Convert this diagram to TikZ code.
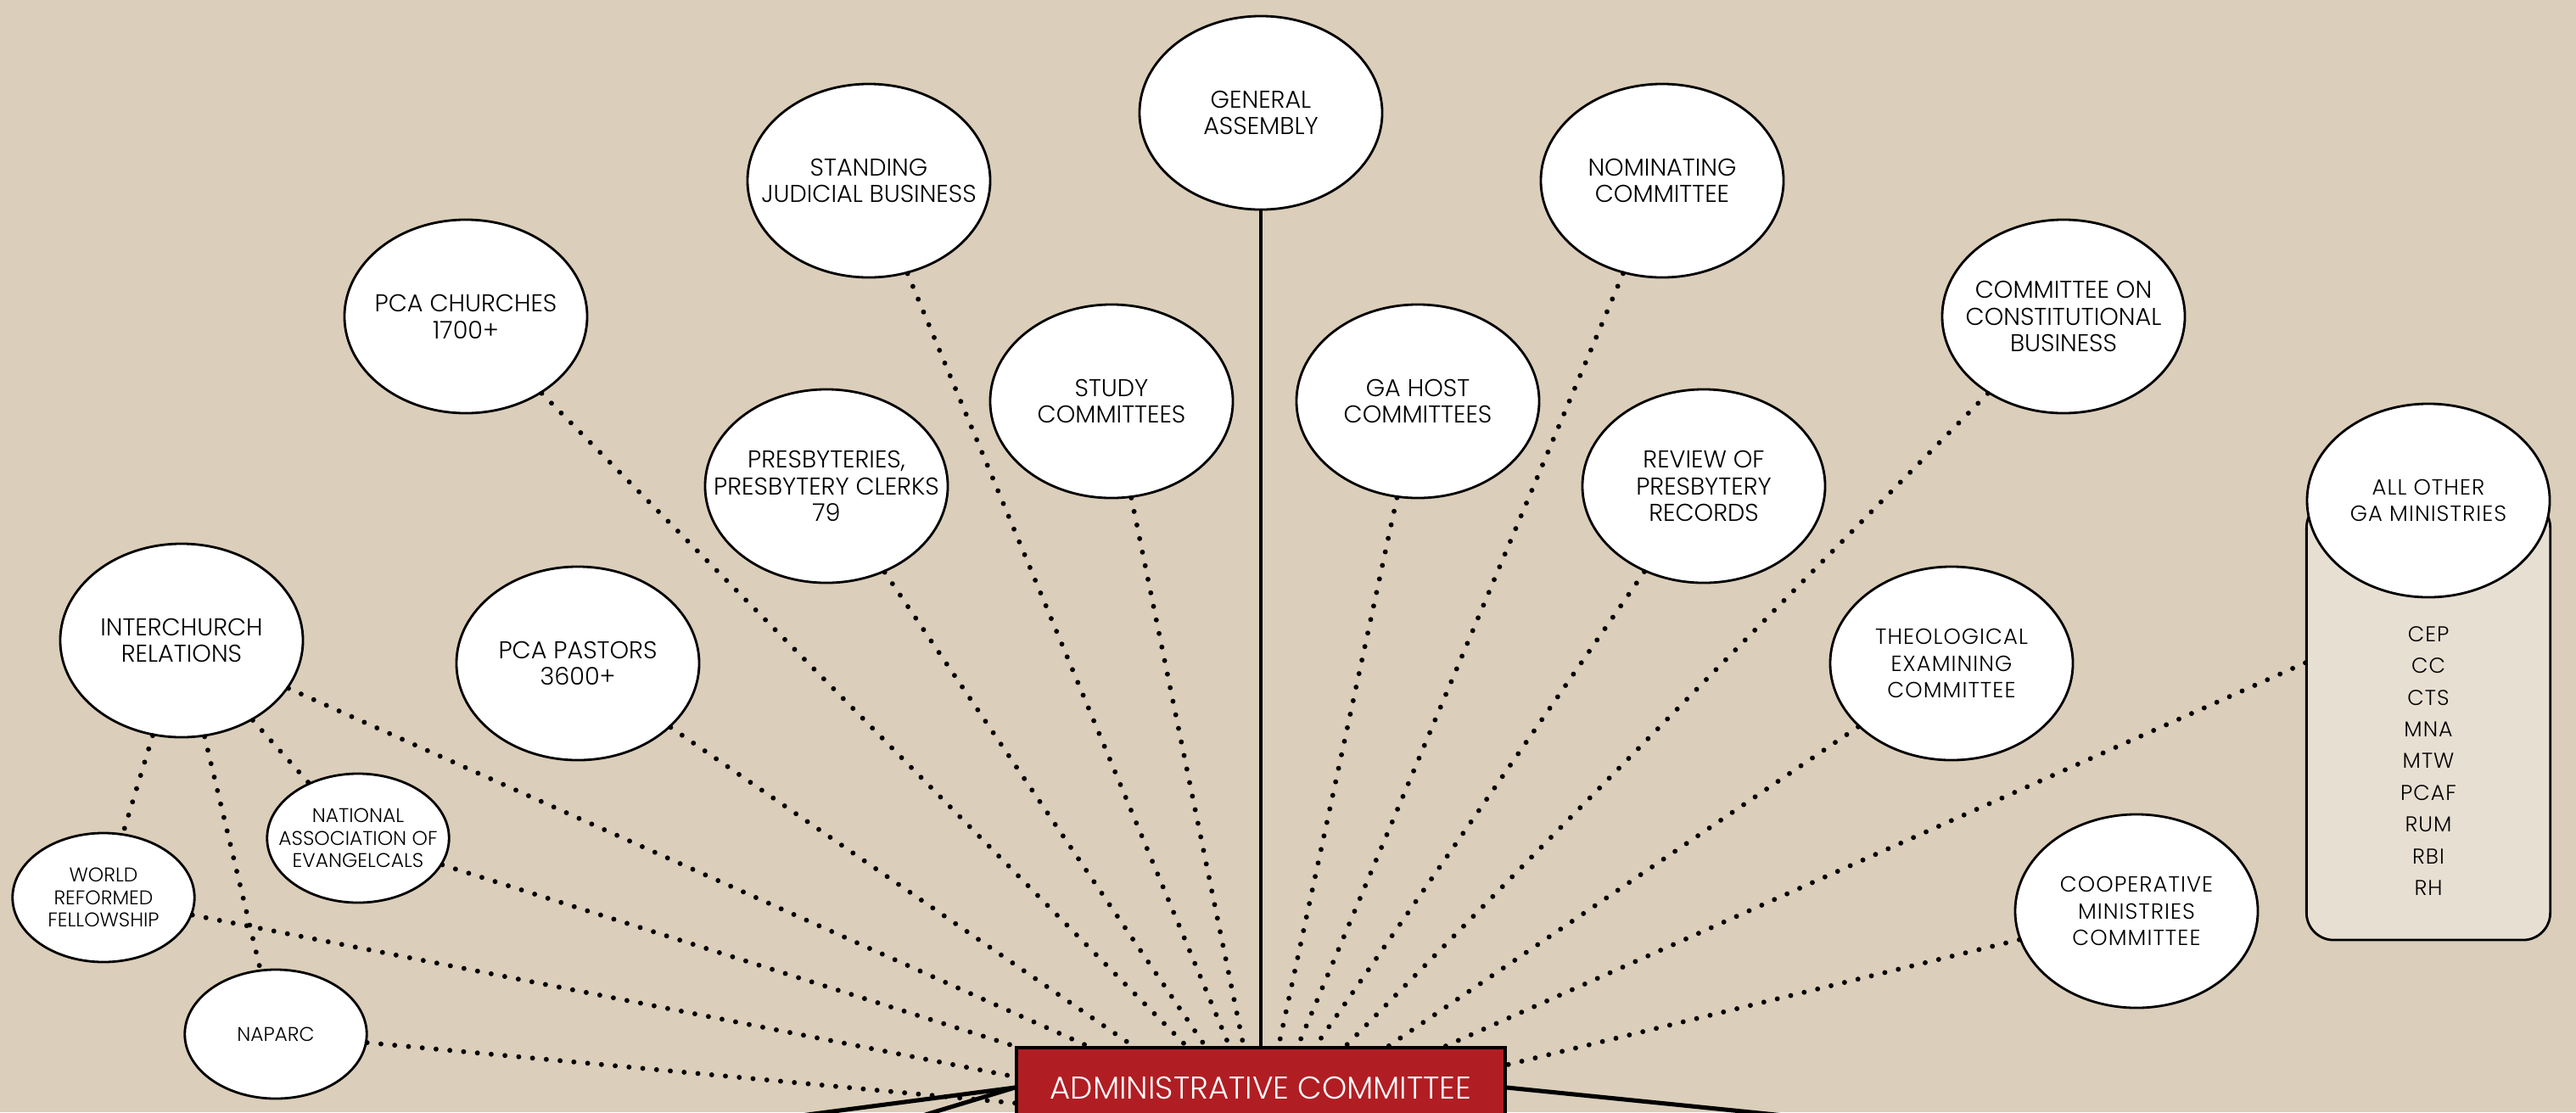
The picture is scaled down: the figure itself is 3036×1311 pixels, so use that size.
\documentclass[tikz,border=0pt]{standalone}
\usepackage{fontspec}
\setmainfont{Poppins Light}
\newfontfamily\widefont{Poppins Light}[LetterSpace=4]
\usetikzlibrary{shapes.geometric,calc}

\definecolor{paper}{RGB}{219,206,186}
\definecolor{barrel}{RGB}{232,223,211}
\definecolor{adminred}{RGB}{176,30,35}

\tikzstyle{unit}=[ellipse, minimum width=3.575cm, minimum height=2.85cm, draw=black, fill=white, line width=1pt, inner sep=0pt]
\tikzstyle{smallunit}=[ellipse, minimum width=2.68cm, minimum height=1.9cm, draw=black, fill=white, line width=1pt, inner sep=0pt]

\begin{document}
\begin{tikzpicture}[x=0.0125cm, y=-0.0125cm,
    dotlink/.style = {line width=2.1pt, dash pattern=on 0pt off 5.8pt, line cap=round},
    smalltext/.style = {font=\fontsize{8.3}{9.4}\selectfont},
    widetext/.style = {font=\widefont\fontsize{9.2}{11.3}\selectfont},
    every label/.append style = {align=center, font=\fontsize{10.2}{11.3}\selectfont}]
    \fill[paper] (0,0) rectangle (3036,1311);
    \useasboundingbox (0,0) rectangle (3036,1311);

    % the barrel behind all other GA ministries
    \node (aobody) [draw=black, fill=barrel, line width=1pt, rounded corners=0.4cm, minimum width=3.59cm, minimum height=6.475cm] at (2862,849) {};
    \node (aolist) [align=center, font=\widefont\fontsize{9}{13.3}\selectfont] at (2862,897) {CEP\\CC\\CTS\\MNA\\MTW\\PCAF\\RUM\\RBI\\RH};

    \node (ga) [unit, label={center:{GENERAL\\ASSEMBLY}}] at (1486,133) {};
    \node (sj) [unit, label={center:{STANDING\\JUDICIAL BUSINESS}}] at (1024,213) {};
    \node (nc) [unit, label={center:{NOMINATING\\COMMITTEE}}] at (1959,213) {};
    \node (ch) [unit, label={center:{PCA CHURCHES\\1700+}}] at (549,373) {};
    \node (st) [unit, label={center:{STUDY\\COMMITTEES}}] at (1310,473) {};
    \node (gh) [unit, label={center:{GA HOST\\COMMITTEES}}] at (1671,473) {};
    \node (cc) [unit, label={center:{COMMITTEE ON\\CONSTITUTIONAL\\BUSINESS}}] at (2432,373) {};
    \node (pr) [unit, label={center:{PRESBYTERIES,\\PRESBYTERY CLERKS\\79}}] at (974,573) {};
    \node (rv) [unit, label={center:{REVIEW OF\\PRESBYTERY\\RECORDS}}] at (2008,573) {};
    \node (ic) [unit, label={center:{INTERCHURCH\\RELATIONS}}] at (214,755) {};
    \node (pp) [unit, label={center:{PCA PASTORS\\3600+}}] at (681,782) {};
    \node (te) [unit, label={[widetext]center:{THEOLOGICAL\\EXAMINING\\COMMITTEE}}] at (2300,782) {};
    \node (co) [unit, label={[widetext]center:{COOPERATIVE\\MINISTRIES\\COMMITTEE}}] at (2518,1074) {};
    \node (ao) [unit, label={[widetext]center:{ALL OTHER\\GA MINISTRIES}}] at (2862,590) {};
    \node (nae) [smallunit, label={[smalltext]center:{NATIONAL\\ASSOCIATION OF\\EVANGELCALS}}] at (422,988) {};
    \node (wrf) [smallunit, label={[smalltext]center:{WORLD\\REFORMED\\FELLOWSHIP}}] at (122,1058) {};
    \node (nap) [smallunit, label={[smalltext]center:{NAPARC}}] at (325,1219) {};

    \node (admin) [draw=black, fill=adminred, line width=1.2pt, minimum width=7.2cm, minimum height=1.175cm, text=white, font=\fontsize{13.2}{15}\selectfont] at (1486,1282) {ADMINISTRATIVE COMMITTEE};

    % off the page
    \coordinate (offa) at (600,1360);
    \coordinate (offb) at (807,1400);
    \coordinate (offc) at (2945,1400);

    \path[draw, line width=1.4pt]
    (ga) edge (admin);
    \path[draw, line width=1.8pt]
    (admin.west) edge (offa)
    (admin.west) edge (offb)
    (admin.east) edge (offc);

    \path[dotlink]
    (ic) edge ($(admin.north west)!.149!(admin.north east)$)
    (pp) edge ($(admin.north west)!.241!(admin.north east)$)
    (ch) edge ($(admin.north west)!.349!(admin.north east)$)
    (pr) edge ($(admin.north west)!.387!(admin.north east)$)
    (sj) edge ($(admin.north west)!.436!(admin.north east)$)
    (st) edge ($(admin.north west)!.465!(admin.north east)$)
    (gh) edge ($(admin.north west)!.536!(admin.north east)$)
    (nc) edge ($(admin.north west)!.575!(admin.north east)$)
    (rv) edge ($(admin.north west)!.611!(admin.north east)$)
    (cc) edge ($(admin.north west)!.672!(admin.north east)$)
    (te) edge ($(admin.north west)!.759!(admin.north east)$)
    ($(aobody.north west)!.37!(aobody.south west)$) edge ($(admin.north west)!.875!(admin.north east)$)
    (co) edge ($(admin.north east)+(0,22)$)
    (nae) edge (admin.north west)
    (wrf) edge ($(admin.north west)+(0,36)$)
    (nap) edge ($(admin.north west)+(0,67)$)
    (ic) edge (wrf)
    (ic) edge (nae)
    (ic) edge (nap);
\end{tikzpicture}
\end{document}
